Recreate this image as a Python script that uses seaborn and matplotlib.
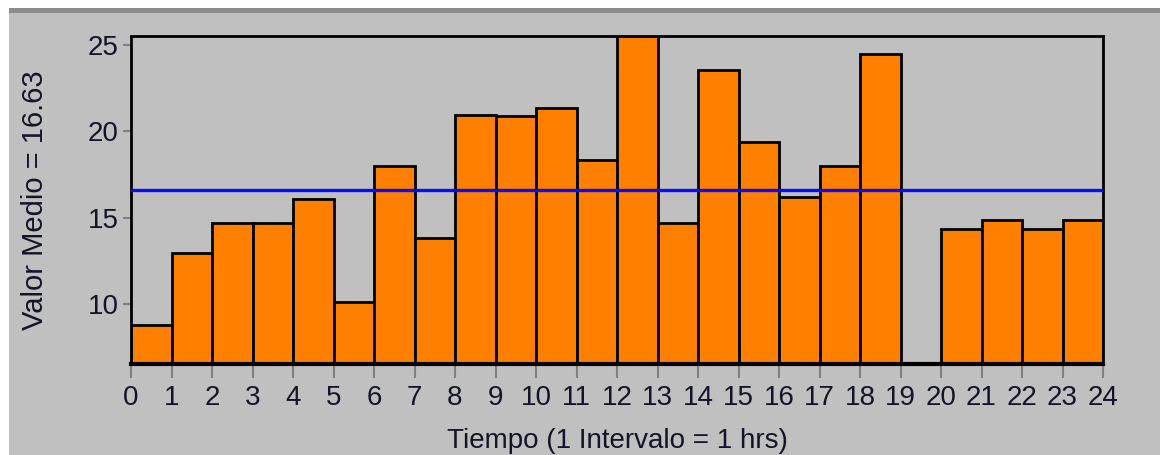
import matplotlib
matplotlib.use('Agg')
import matplotlib.pyplot as plt
import seaborn as sns
from matplotlib.patches import Rectangle

# hourly mean values (hour 19 has no data)
hours = [0, 1, 2, 3, 4, 5, 6, 7, 8, 9, 10, 11, 12, 13, 14, 15, 16, 17, 18,
         20, 21, 22, 23]
values = [8.76, 12.95, 14.68, 14.68, 16.07, 10.13, 18.0, 13.8, 20.94, 20.9,
          21.33, 18.34, 25.5, 14.72, 23.54, 19.38, 16.22, 18.0, 24.47,
          14.35, 14.87, 14.35, 14.87]
mean_value = 16.63
xticks = list(range(25))
yticks = [10, 15, 20, 25]

sns.set_style('ticks')
plt.rcParams['font.family'] = ['Liberation Sans Narrow', 'Liberation Sans', 'DejaVu Sans']

fig = plt.figure(figsize=(11.67, 4.55), dpi=100, facecolor='white')
# grey panel behind the chart
fig.patches.append(Rectangle((9 / 1167, 0), 1151 / 1167, 442 / 455,
                             transform=fig.transFigure, facecolor='#c0c0c0',
                             edgecolor='none', zorder=-2))
fig.patches.append(Rectangle((9 / 1167, 442 / 455), 1151 / 1167, 5 / 455,
                             transform=fig.transFigure, facecolor='#8c8c8c',
                             edgecolor='none', zorder=-1))

ax = fig.add_axes([131 / 1167, 1 - 364 / 455, 972 / 1167, 328 / 455])
ax.set_facecolor('#c0c0c0')

sns.histplot(x=hours, weights=values, bins=range(25), color='#ff8000',
             edgecolor='black', linewidth=2, alpha=1, ax=ax)
ax.axhline(mean_value, color='#0a0aff', lw=2.4, zorder=5)

ax.set_xlim(0, 24)
ax.set_ylim(6.53, 25.52)
ax.set_xticks(xticks)
ax.set_yticks(yticks)
ax.tick_params(axis='both', colors='#808080', labelcolor='#141428',
               labelsize=20, width=1.5)
ax.tick_params(axis='x', length=10, pad=5)
ax.tick_params(axis='y', length=6, pad=3)

for s in ax.spines.values():
    s.set_visible(True)
    s.set_color('black')
    s.set_linewidth(2)
ax.spines['bottom'].set_linewidth(3)

ax.set_xlabel('Tiempo (1 Intervalo = 1 hrs)', fontsize=20, color='#141428',
              labelpad=12)
ax.set_ylabel('Valor Medio = 16.63', fontsize=21, color='#141428',
              labelpad=28)

fig.savefig('out.png', dpi=100, facecolor=fig.get_facecolor())
